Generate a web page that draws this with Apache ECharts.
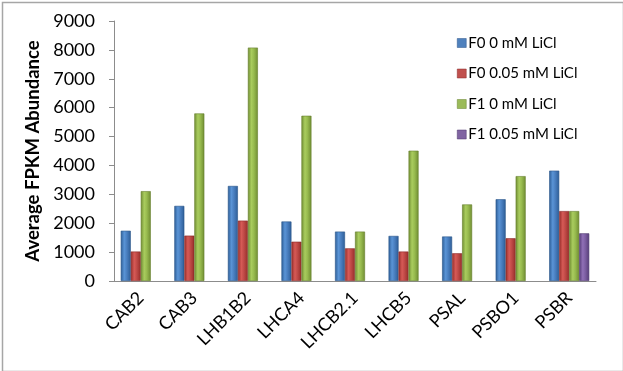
<!DOCTYPE html>
<html>
<head>
<meta charset="utf-8">
<script src="https://cdn.jsdelivr.net/npm/echarts@6/dist/echarts.min.js"></script>
<style>html,body{margin:0;padding:0;background:#fff}#c{width:623px;height:371px}</style>
</head>
<body>
<div id="c"></div>
<script>
const categories = ['CAB2','CAB3','LHB1B2','LHCA4','LHCB2.1','LHCB5','PSAL','PSBO1','PSBR'];
const seriesNames = ['F0 0 mM LiCl','F0 0.05 mM LiCl','F1 0 mM LiCl','F1 0.05 mM LiCl'];
const f0_0mM = [1740, 2600, 3290, 2060, 1710, 1560, 1540, 2830, 3820];
const f0_005mM = [1020, 1570, 2090, 1360, 1130, 1020, 960, 1480, 2420];
const f1_0mM = [3110, 5800, 8080, 5720, 1710, 4510, 2650, 3630, 2420];
const f1_005mM = [null, null, null, null, null, null, null, null, 1650];
const yTicks = {min: 0, max: 9000, interval: 1000};

const font = 'Lato, "Liberation Sans", sans-serif';
function grad(dark, mid, light) {
  return new echarts.graphic.LinearGradient(0, 0, 1, 0, [
    {offset: 0, color: dark}, {offset: 0.35, color: light}, {offset: 0.6, color: mid}, {offset: 1, color: dark}
  ]);
}
const styles = [
  {c: '#4F81BD', g: grad('#2d5d96', '#4a7fc0', '#5a94d6'), b: '#2a558a'},
  {c: '#C0504D', g: grad('#962d2a', '#c04a47', '#d65a56'), b: '#8a2a28'},
  {c: '#9BBB59', g: grad('#6f8c32', '#98bb4f', '#a9cc5e'), b: '#66802e'},
  {c: '#8064A2', g: grad('#563d78', '#7d5fa3', '#9070b6'), b: '#4e376d'}
];
const data = [f0_0mM, f0_005mM, f1_0mM, f1_005mM];

const chart = echarts.init(document.getElementById('c'));
chart.setOption({
  animation: false,
  backgroundColor: '#fff',
  graphic: [{
    type: 'rect', left: 0, top: 0, silent: true,
    shape: {x: 0.5, y: 0.5, width: 621, height: 369},
    style: {fill: 'none', stroke: '#a6a6a6', lineWidth: 1.5}
  }],
  grid: {left: 114, right: 27, top: 21, bottom: 90, containLabel: false},
  legend: {
    orient: 'vertical', left: 452, top: 30,
    itemWidth: 9, itemHeight: 9, itemGap: 14.5,
    icon: 'rect',
    textStyle: {fontFamily: font, fontSize: 15, color: '#000', lineHeight: 16, padding: [0, 0, 0, -3]},
    data: seriesNames.map((n, i) => ({name: n, itemStyle: {color: styles[i].c, borderColor: styles[i].b, borderWidth: 0.5}}))
  },
  xAxis: {
    type: 'category', data: categories,
    axisLine: {lineStyle: {color: '#8c8c8c', width: 1}},
    axisTick: {show: false},
    axisLabel: {rotate: 45, fontFamily: font, fontSize: 18, color: '#000', margin: 14, interval: 0}
  },
  yAxis: {
    type: 'value', min: yTicks.min, max: yTicks.max, interval: yTicks.interval,
    name: 'Average FPKM Abundance', nameLocation: 'middle', nameGap: 68,
    nameTextStyle: {fontFamily: font, fontSize: 18.5, fontWeight: 'bold', color: '#000'},
    axisLine: {show: true, lineStyle: {color: '#8c8c8c', width: 1}},
    axisTick: {show: true, length: 5, lineStyle: {color: '#8c8c8c'}},
    splitLine: {show: false},
    axisLabel: {fontFamily: font, fontSize: 18, color: '#000', margin: 19, formatter: v => String(v)}
  },
  series: seriesNames.map((n, i) => ({
    name: n, type: 'bar', data: data[i],
    barWidth: 10, barGap: '0%', barCategoryGap: '25%',
    itemStyle: {color: styles[i].g, borderColor: styles[i].b, borderWidth: 0.6}
  }))
});
</script>
</body>
</html>
